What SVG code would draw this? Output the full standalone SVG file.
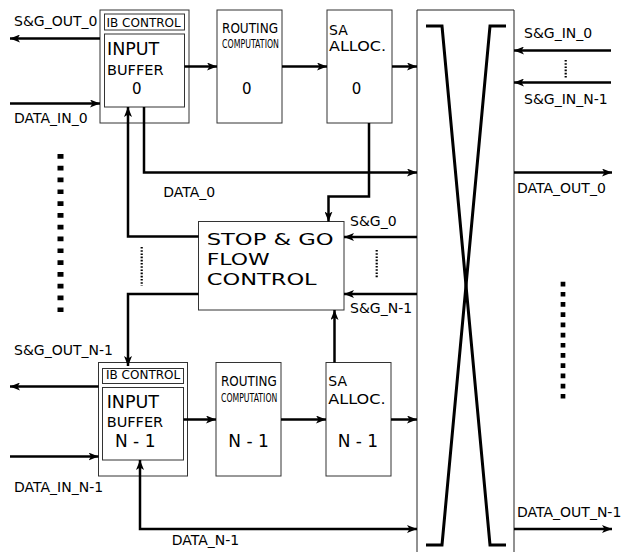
<svg xmlns="http://www.w3.org/2000/svg" width="636" height="552" viewBox="0 0 636 552">
<style>
  text { font-family: "DejaVu Sans", "Liberation Sans", sans-serif; fill: #000; }
  .lbl { font-size: 14px; }
  .box { fill: #fff; stroke: #333; stroke-width: 1; }
  .wire { fill: none; stroke: #000; stroke-width: 2.5; }
  .xbar { fill: none; stroke: #000; stroke-width: 3; }
  .ibc { font-size: 12px; }
  .inp { font-size: 17.5px; }
  .buf { font-size: 14.5px; }
  .num { font-size: 15px; text-anchor: middle; }
  .nm1 { font-size: 17px; }
  .rt { font-size: 14px; }
  .cmp { font-size: 11.5px; }
  .sa { font-size: 14px; }
  .sg { font-size: 16px; }
  .dotbig { fill: none; stroke: #000; }
  .dotsm { fill: none; stroke: #000; stroke-width: 2.2; stroke-dasharray: 1.6 1.6; }
</style>
<defs>
  <marker id="arr" markerUnits="userSpaceOnUse" markerWidth="10" markerHeight="8" refX="10" refY="4" orient="auto-start-reverse">
    <path d="M0,0 L10,4 L0,8 L2.5,4 z" fill="#000"/>
  </marker>
</defs>

<rect x="0" y="0" width="636" height="552" fill="#fff"/>

<!-- Crossbar -->
<g id="crossbar">
  <path d="M417,560 V10 H514 V560" fill="#fff" stroke="#222" stroke-width="1"/>
  <polyline class="xbar" points="426,26 442,26 490,545 506,545"/>
  <polyline class="xbar" points="506,26 490,26 442,545 426,545"/>
</g>

<!-- Input buffer 0 -->
<g id="ib0">
  <rect class="box" x="100" y="10" width="89" height="113"/>
  <rect class="box" x="104.5" y="14" width="80" height="16"/>
  <rect class="box" x="104.5" y="34" width="80" height="73"/>
  <text class="ibc" x="106.5" y="26.5">IB CONTROL</text>
  <text class="inp" x="107" y="55">INPUT</text>
  <text class="buf" x="107" y="75">BUFFER</text>
  <text class="num" x="136.7" y="94">0</text>
</g>

<g id="rc0">
  <rect class="box" x="217" y="10" width="65" height="113"/>
  <text class="rt" x="222" y="33" textLength="56" lengthAdjust="spacingAndGlyphs">ROUTING</text>
  <text class="cmp" x="222" y="48" textLength="57" lengthAdjust="spacingAndGlyphs">COMPUTATION</text>
  <text class="num" x="246.7" y="94">0</text>
</g>

<g id="sa0">
  <rect class="box" x="327" y="10" width="65" height="113"/>
  <text class="sa" x="329" y="34.5">SA</text>
  <text class="sa" x="329" y="51" textLength="57" lengthAdjust="spacingAndGlyphs">ALLOC.</text>
  <text class="num" x="356.5" y="94">0</text>
</g>

<!-- Stop & Go -->
<g id="sgfc">
  <rect class="box" x="198.5" y="221.5" width="145.5" height="88.5"/>
  <text class="sg" x="206.7" y="245" textLength="127" lengthAdjust="spacingAndGlyphs">STOP &amp; GO</text>
  <text class="sg" x="206.7" y="265" textLength="63" lengthAdjust="spacingAndGlyphs">FLOW</text>
  <text class="sg" x="206.7" y="285" textLength="110" lengthAdjust="spacingAndGlyphs">CONTROL</text>
</g>

<!-- Input buffer N-1 -->
<g id="ibn">
  <rect class="box" x="98.5" y="362.5" width="89" height="113.5"/>
  <rect class="box" x="102.5" y="368.5" width="81" height="15"/>
  <rect class="box" x="102.5" y="387.5" width="81" height="72.5"/>
  <text class="ibc" x="106" y="379">IB CONTROL</text>
  <text class="inp" x="106.7" y="408.3">INPUT</text>
  <text class="buf" x="106.7" y="426.7">BUFFER</text>
  <text class="nm1" x="115" y="446.7">N - 1</text>
</g>

<g id="rcn">
  <rect class="box" x="216" y="362.5" width="65" height="113.5"/>
  <text class="rt" x="221" y="386" textLength="55.7" lengthAdjust="spacingAndGlyphs">ROUTING</text>
  <text class="cmp" x="221" y="401.7" textLength="56.3" lengthAdjust="spacingAndGlyphs">COMPUTATION</text>
  <text class="nm1" x="228.3" y="446.7">N - 1</text>
</g>

<g id="san">
  <rect class="box" x="326" y="362.5" width="65" height="113.5"/>
  <text class="sa" x="328.3" y="385.5">SA</text>
  <text class="sa" x="328.3" y="403.5" textLength="57.3" lengthAdjust="spacingAndGlyphs">ALLOC.</text>
  <text class="nm1" x="337.7" y="446.7">N - 1</text>
</g>

<!-- Connectors -->
<g id="connectors">
  <path class="wire" d="M100,38.5 H10" marker-end="url(#arr)"/>
  <path class="wire" d="M10,103.5 H100" marker-end="url(#arr)"/>
  <path class="wire" d="M184.5,66.5 H217" marker-end="url(#arr)"/>
  <path class="wire" d="M282,66.5 H327" marker-end="url(#arr)"/>
  <path class="wire" d="M392,66.5 H417" marker-end="url(#arr)"/>
  <path class="wire" d="M144,107 V172.5 H417" marker-end="url(#arr)"/>
  <path class="wire" d="M369,123 V196.5 H328.5 V221.5" marker-end="url(#arr)"/>
  <path class="wire" d="M198.5,236.5 H128 V107" marker-end="url(#arr)"/>
  <path class="wire" d="M198.5,294 H128 V366" marker-end="url(#arr)"/>
  <path class="wire" d="M417,237 H344" marker-end="url(#arr)"/>
  <path class="wire" d="M417,294 H344" marker-end="url(#arr)"/>
  <path class="wire" d="M334.5,362.5 V310" marker-end="url(#arr)"/>
  <path class="wire" d="M98.5,386.5 H10" marker-end="url(#arr)"/>
  <path class="wire" d="M10,456.5 H98.5" marker-end="url(#arr)"/>
  <path class="wire" d="M183.5,419.5 H216" marker-end="url(#arr)"/>
  <path class="wire" d="M281,419.5 H326" marker-end="url(#arr)"/>
  <path class="wire" d="M391,419.5 H417" marker-end="url(#arr)"/>
  <path class="wire" d="M140,460 V529 H417" marker-start="url(#arr)" marker-end="url(#arr)"/>
  <path class="wire" d="M611,50.5 H514" marker-end="url(#arr)"/>
  <path class="wire" d="M611,82.5 H514" marker-end="url(#arr)"/>
  <path class="wire" d="M514,172.5 H612" marker-end="url(#arr)"/>
  <path class="wire" d="M514,529 H612" marker-end="url(#arr)"/>
</g>

<!-- Ellipsis dots -->
<g id="dots">
  <line class="dotbig" x1="60.5" y1="154" x2="60.5" y2="314" stroke-width="6" stroke-dasharray="4.7 7.1"/>
  <line class="dotbig" x1="563" y1="281.7" x2="563" y2="400" stroke-width="4.7" stroke-dasharray="4.7 5.5"/>
  <line class="dotsm" x1="565.7" y1="60" x2="565.7" y2="79"/>
  <line class="dotsm" x1="141.7" y1="247" x2="141.7" y2="286"/>
  <line class="dotsm" x1="376.7" y1="250" x2="376.7" y2="277.5"/>
</g>

<!-- Labels -->
<g id="labels">
  <text class="lbl" x="14" y="26">S&amp;G_OUT_0</text>
  <text class="lbl" x="14" y="123">DATA_IN_0</text>
  <text class="lbl" x="163.3" y="197">DATA_0</text>
  <text class="lbl" x="524" y="38.3">S&amp;G_IN_0</text>
  <text class="lbl" x="524" y="104">S&amp;G_IN_N-1</text>
  <text class="lbl" x="517" y="193">DATA_OUT_0</text>
  <text class="lbl" x="350" y="226">S&amp;G_0</text>
  <text class="lbl" x="350" y="313.3">S&amp;G_N-1</text>
  <text class="lbl" x="14" y="355">S&amp;G_OUT_N-1</text>
  <text class="lbl" x="14" y="491.7">DATA_IN_N-1</text>
  <text class="lbl" x="171.7" y="545">DATA_N-1</text>
  <text class="lbl" x="517" y="516.7">DATA_OUT_N-1</text>
</g>
</svg>
